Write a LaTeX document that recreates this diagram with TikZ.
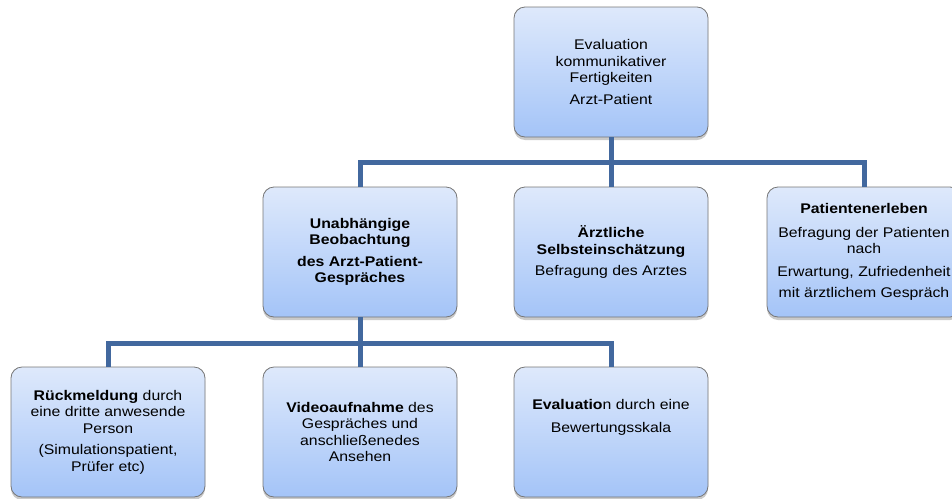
\documentclass[tikz,border=0pt]{standalone}
\usepackage{fontspec}
\setmainfont{Liberation Sans}[FakeStretch=1.13]
\usetikzlibrary{shadows}
\definecolor{boxtop}{RGB}{222,233,251}
\definecolor{boxbot}{RGB}{164,196,248}
\definecolor{boxline}{RGB}{118,118,118}
\definecolor{conncol}{RGB}{66,104,158}
\tikzset{
  box/.style={rectangle, rounded corners=11pt, draw=boxline, line width=0.8pt,
    top color=boxtop, bottom color=boxbot, minimum width=194pt, minimum height=130pt,
    inner sep=0pt, align=center, text=black,
    font=\fontsize{14}{16.5}\selectfont,
    drop shadow={opacity=0.35, shadow xshift=0pt, shadow yshift=-3pt, fill=black!60}},
  conn/.style={draw=conncol, line width=5pt, line join=miter},
}
\begin{document}
\begin{tikzpicture}[x=1pt, y=-1pt]
\clip (0,0) rectangle (952,498);
\useasboundingbox (0,0) rectangle (952,498);
\node[box] (top) at (611,72) {Evaluation\\kommunikativer\\Fertigkeiten\\[5pt]Arzt-Patient};
\node[box] (l2a) at (360,252) {\textbf{Unabhängige}\\\textbf{Beobachtung}\\[5pt]\textbf{des Arzt-Patient-}\\\textbf{Gespräches}};
\node[box] (l2b) at (611,252) {\textbf{Ärztliche}\\\textbf{Selbsteinschätzung}\\[5pt]Befragung des Arztes};
\node[box] (l2c) at (864,252) {\textbf{Patientenerleben}\\[7pt]Befragung der Patienten\\nach\\[6pt]Erwartung, Zufriedenheit\\[5pt]mit ärztlichem Gespräch};
\node[box] (l3a) at (108,432) {\textbf{Rückmeldung} durch\\eine dritte anwesende\\Person\\[5pt](Simulationspatient,\\Prüfer etc)};
\node[box] (l3b) at (360,432) {\textbf{Videoaufnahme} des\\Gespräches und\\anschließenedes\\Ansehen};
\node[box] (l3c) at (611,432) {\textbf{Evaluatio}n durch eine\\[6pt]Bewertungsskala\\[16pt]\mbox{}};
\coordinate (b1) at (611,162);
\coordinate (b2) at (360,343);
\draw[conn] (top.south) -- (b1);
\draw[conn] (l2a.north) |- (b1) -| (l2c.north);
\draw[conn] (b1) -- (l2b.north);
\draw[conn] (l2a.south) -- (l3b.north);
\draw[conn] (l3a.north) |- (b2) -| (l3c.north);
\end{tikzpicture}
\end{document}
